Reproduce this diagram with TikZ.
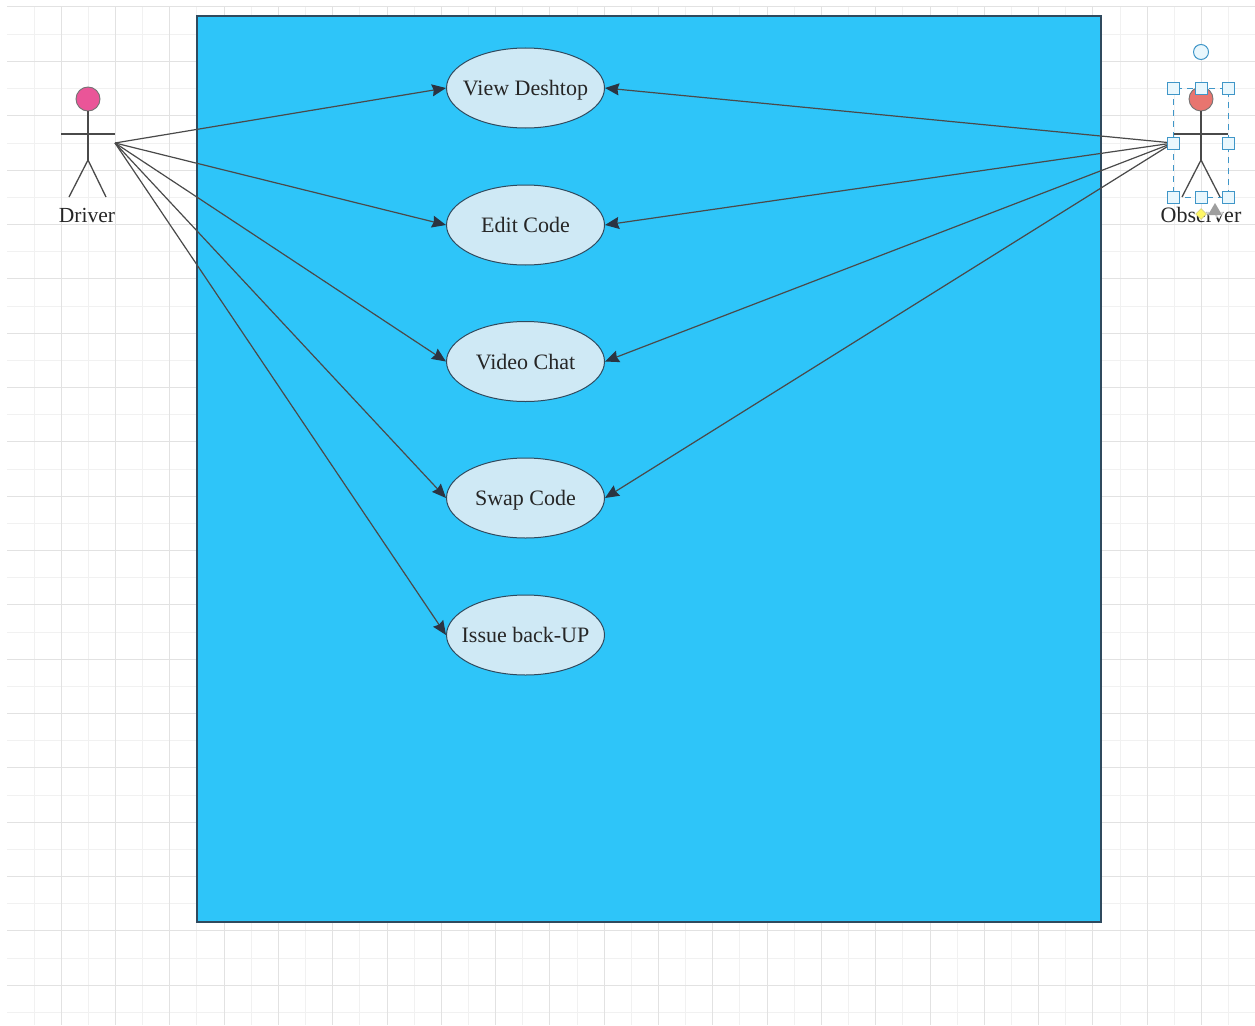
\documentclass[tikz,border=0pt]{standalone}
\usepackage{fontspec}
\setmainfont{Liberation Serif}
\usetikzlibrary{shapes.geometric,arrows.meta}
\definecolor{sysblue}{HTML}{2EC5F9}
\definecolor{usefill}{HTML}{CFE9F5}
\definecolor{edgedark}{HTML}{2F4A5E}
\definecolor{linegray}{HTML}{4A4A4A}
\definecolor{tipdark}{HTML}{2B3442}
\definecolor{gridmajor}{HTML}{E2E2E2}
\definecolor{gridminor}{HTML}{F1F1F1}
\definecolor{handleblue}{HTML}{3F96C8}
\definecolor{handlefill}{HTML}{E9F7FD}
\definecolor{drvhead}{HTML}{EA5598}
\definecolor{obshead}{HTML}{E8756F}
\newcommand{\uctext}[1]{\makebox[0pt]{\raisebox{-7.5pt}[0pt][0pt]{#1}}}
\tikzset{
  x=1pt,y=-1pt,
  usecase/.style={ellipse,draw=edgedark,line width=1pt,fill=usefill,minimum width=158pt,minimum height=80pt,inner sep=0pt,font=\fontsize{22}{25}\selectfont,text=black!85},
  assoc/.style={draw=linegray,line width=1.2pt,-{Stealth[length=14pt,width=12pt,inset=1.5pt,color=tipdark]}},
  limb/.style={draw=linegray,line width=1.3pt},
  head/.style={circle,draw=black!55,line width=0.9pt,minimum size=24pt,inner sep=0pt},
  actorlabel/.style={font=\fontsize{21.5}{25}\selectfont,inner sep=0pt,text=black!85},
  handle/.style={rectangle,draw=handleblue,fill=handlefill,line width=1pt,minimum size=12pt,inner sep=0pt},
  gmaj/.style={gridmajor,line width=1pt},
  gmin/.style={gridminor,line width=0.8pt}
}
\begin{document}
\begin{tikzpicture}
\useasboundingbox (0,0) rectangle (1255,1025);
\fill[white] (0,0) rectangle (1255,1025);
% grid
\foreach \k in {0,...,22}{
  \draw[gmin] ({33.9+54.3*\k},7) -- ({33.9+54.3*\k},1025);
}
\foreach \k in {0,...,18}{
  \draw[gmin] (7,{34.2+54.35*\k}) -- (1255,{34.2+54.35*\k});
}
\foreach \k in {0,...,21}{
  \draw[gmaj] ({61.2+54.3*\k},7) -- ({61.2+54.3*\k},1025);
}
\foreach \k in {0,...,18}{
  \draw[gmaj] (7,{7+54.35*\k}) -- (1255,{7+54.35*\k});
}
% system boundary
\node[rectangle,draw=edgedark,line width=1.05pt,fill=sysblue,minimum width=904pt,minimum height=906pt,inner sep=0pt] (system) at (649,469) {};
% use cases
\node[usecase] (uc1) at (525.5,88) {\uctext{View Deshtop}};
\node[usecase] (uc2) at (525.5,225) {\uctext{Edit Code}};
\node[usecase] (uc3) at (525.5,361.5) {\uctext{Video Chat}};
\node[usecase] (uc4) at (525.5,498) {\uctext{Swap Code}};
\node[usecase] (uc5) at (525.5,635) {\uctext{Issue back-UP}};
% actor: driver
\node[head,fill=drvhead] (dhead) at (88,99) {};
\coordinate (dhip) at (88,160);
\coordinate (dlarm) at (61,134);
\coordinate (drarm) at (115,134);
\coordinate (dlfoot) at (69,197);
\coordinate (drfoot) at (106,197);
\coordinate (dport) at (115,143);
\draw[limb] (dhead) -- (dhip);
\draw[limb] (dlarm) -- (drarm);
\draw[limb] (dlfoot) -- (dhip) -- (drfoot);
\node[actorlabel] (dlabel) at (87,215) {Driver};
% actor: observer
\node[head,fill=obshead] (ohead) at (1201,99) {};
\coordinate (ohip) at (1201,160);
\coordinate (olarm) at (1174,134);
\coordinate (orarm) at (1228,134);
\coordinate (olfoot) at (1182,197);
\coordinate (orfoot) at (1220,197);
\coordinate (oport) at (1173,143);
\draw[limb] (ohead) -- (ohip);
\draw[limb] (olarm) -- (orarm);
\draw[limb] (olfoot) -- (ohip) -- (orfoot);
\node[actorlabel,font=\fontsize{22}{25}\selectfont] (olabel) at (1201,215) {Observer};
% associations
\foreach \u in {uc1,uc2,uc3,uc4,uc5}{
  \draw[assoc] (dport) -- (\u.west);
}
\foreach \u in {uc1,uc2,uc3,uc4}{
  \draw[assoc] (oport) -- (\u.east);
}
% selection handles
\draw[handleblue,line width=1pt,dash pattern=on 6pt off 5pt] (1173,88) rectangle (1228,197);
\foreach \n/\px/\py in {h1/1173/88,h2/1201/88,h3/1228/88,h4/1173/143,h5/1228/143,h6/1173/197,h7/1201/197,h8/1228/197}{
  \node[handle] (\n) at (\px,\py) {};
}
\node[circle,draw=handleblue,fill=handlefill,line width=1pt,minimum size=15pt,inner sep=0pt] (rot) at (1201,52) {};
\fill[white,opacity=0.75] (1215,209) circle (9);
\fill[black!38] (1215,203) -- (1222,215) -- (1208,215) -- cycle;
\node[diamond,draw=yellow!60!black!60,fill=yellow!60!white,line width=0.5pt,minimum size=11pt,inner sep=0pt] (ctl) at (1201,214) {};
\end{tikzpicture}
\end{document}
